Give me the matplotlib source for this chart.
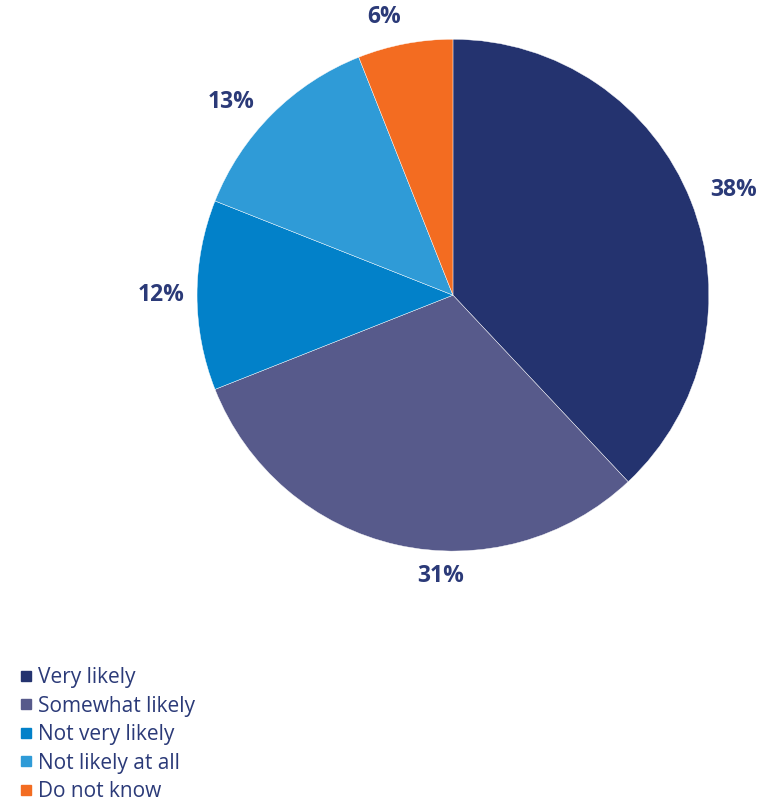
import numpy as np
import matplotlib.pyplot as plt
from matplotlib.lines import Line2D

# survey answers, clockwise from 12 o'clock
categories = ['Very likely', 'Somewhat likely', 'Not very likely',
              'Not likely at all', 'Do not know']
shares = [38, 31, 12, 13, 6]
colors = ['#24336F', '#575A8B', '#0281C9', '#2F9BD7', '#F36C21']
text_color = '#2B3A78'

# label placement tweaks (radius, degrees of shift from the wedge middle)
label_r = [1.17, 1.10, 1.14, 1.15, 1.12]
label_shift = [-1, 10, 0, 4, 3]

plt.rcParams['font.family'] = ['Open Sans', 'DejaVu Sans']

fig = plt.figure(figsize=(7.6, 8.01), dpi=100)
ax = fig.add_axes([0.259, 0.312, 0.674, 0.639])

wedges, _, autotexts = ax.pie(
    shares, colors=colors, startangle=90, counterclock=False,
    autopct='%1.0f%%', pctdistance=1.14,
    wedgeprops=dict(linewidth=0.3, edgecolor='white'))
for w, t, r, s in zip(wedges, autotexts, label_r, label_shift):
    ang = np.deg2rad((w.theta1 + w.theta2) / 2 + s)
    t.set_position((r * np.cos(ang), r * np.sin(ang)))
    t.set_color(text_color)
    t.set_fontsize(16.5)
    t.set_fontweight('bold')
ax.set_xlim(-1, 1)
ax.set_ylim(-1, 1)
ax.set_aspect('equal')

handles = [Line2D([], [], marker='s', linestyle='none', color=c, markersize=7)
           for c in colors]
fig.legend(handles, categories, loc='upper left', bbox_to_anchor=(0.014, 0.18),
           frameon=False, fontsize=15, labelcolor=text_color,
           handlelength=0.5, handletextpad=0.33, labelspacing=0.36,
           borderpad=0)

fig.savefig('out.png', dpi=100)
